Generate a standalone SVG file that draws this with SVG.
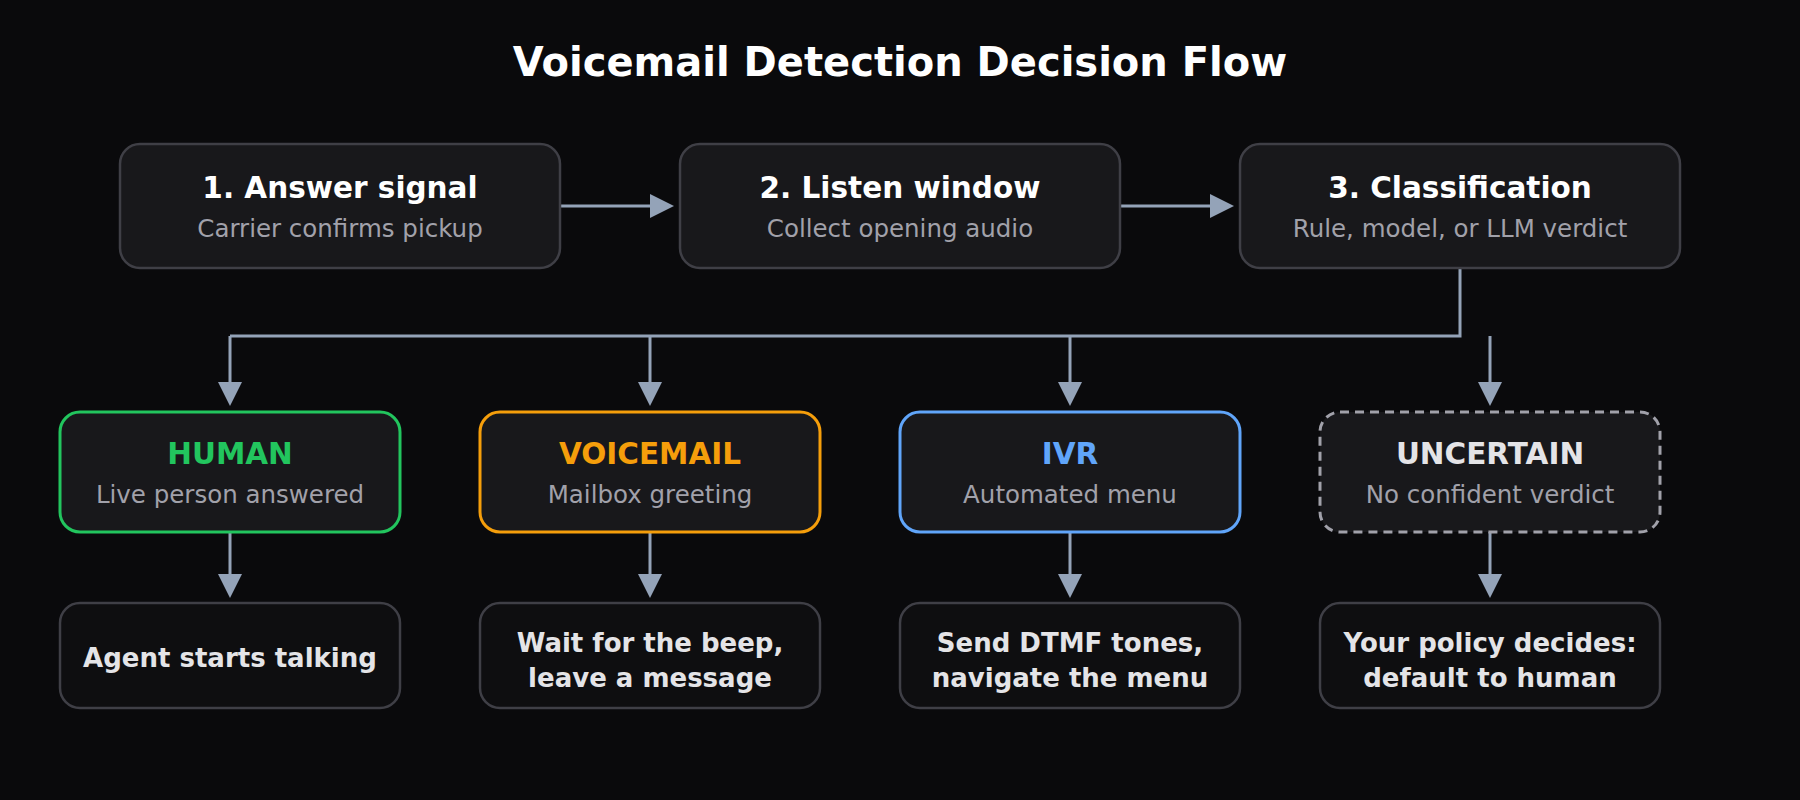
<svg xmlns="http://www.w3.org/2000/svg" width="1800" height="800" viewBox="0 0 1800 800">
<defs>
<marker id="ah" markerUnits="userSpaceOnUse" markerWidth="24" markerHeight="24" refX="14" refY="12" orient="auto">
<path d="M0,0 L24,12 L0,24 z" fill="#94a3b8"/>
</marker>
<style>
text{font-family:"DejaVu Sans","Noto Sans",sans-serif;text-anchor:middle}
.ttl{font-size:40px;font-weight:bold;fill:#ffffff}
.h{font-size:29.5px;font-weight:bold;fill:#ffffff}
.s{font-size:24.5px;fill:#a1a1aa}
.a{font-size:26px;font-weight:bold;fill:#e4e4e7}
.step{fill:#18181b;stroke:#3f3f46;stroke-width:2.5}
.act{fill:#0e0e10;stroke:#3f3f46;stroke-width:2.5}
.res{fill:#18181b;stroke-width:3}
.c{fill:none;stroke:#94a3b8;stroke-width:3}
</style>
</defs>
<rect width="1800" height="800" fill="#0a0a0c"/>
<text class="ttl" x="900" y="76">Voicemail Detection Decision Flow</text>

<g id="connectors">
<path class="c" d="M560,206 H664" marker-end="url(#ah)"/>
<path class="c" d="M1120,206 H1224" marker-end="url(#ah)"/>
<path class="c" d="M1460,268 V336 H230"/>
<path class="c" d="M230,336 V396" marker-end="url(#ah)"/>
<path class="c" d="M650,336 V396" marker-end="url(#ah)"/>
<path class="c" d="M1070,336 V396" marker-end="url(#ah)"/>
<path class="c" d="M1490,336 V396" marker-end="url(#ah)"/>
<path class="c" d="M230,532 V588" marker-end="url(#ah)"/>
<path class="c" d="M650,532 V588" marker-end="url(#ah)"/>
<path class="c" d="M1070,532 V588" marker-end="url(#ah)"/>
<path class="c" d="M1490,532 V588" marker-end="url(#ah)"/>
</g>

<g id="step1">
<rect class="step" x="120" y="144" width="440" height="124" rx="20"/>
<text class="h" x="340" y="198">1. Answer signal</text>
<text class="s" x="340" y="237">Carrier confirms pickup</text>
</g>
<g id="step2">
<rect class="step" x="680" y="144" width="440" height="124" rx="20"/>
<text class="h" x="900" y="198">2. Listen window</text>
<text class="s" x="900" y="237">Collect opening audio</text>
</g>
<g id="step3">
<rect class="step" x="1240" y="144" width="440" height="124" rx="20"/>
<text class="h" x="1460" y="198">3. Classification</text>
<text class="s" x="1460" y="237">Rule, model, or LLM verdict</text>
</g>

<g id="human">
<rect class="res" x="60" y="412" width="340" height="120" rx="20" stroke="#22c55e"/>
<text class="h" x="230" y="464" style="fill:#22c55e">HUMAN</text>
<text class="s" x="230" y="503">Live person answered</text>
</g>
<g id="voicemail">
<rect class="res" x="480" y="412" width="340" height="120" rx="20" stroke="#f59e0b"/>
<text class="h" x="650" y="464" style="fill:#f59e0b">VOICEMAIL</text>
<text class="s" x="650" y="503">Mailbox greeting</text>
</g>
<g id="ivr">
<rect class="res" x="900" y="412" width="340" height="120" rx="20" stroke="#60a5fa"/>
<text class="h" x="1070" y="464" style="fill:#60a5fa">IVR</text>
<text class="s" x="1070" y="503">Automated menu</text>
</g>
<g id="uncertain">
<rect class="res" x="1320" y="412" width="340" height="120" rx="20" stroke="#a1a1aa" stroke-width="2.5" stroke-dasharray="9 6"/>
<text class="h" x="1490" y="464" style="fill:#e4e4e7">UNCERTAIN</text>
<text class="s" x="1490" y="503">No confident verdict</text>
</g>

<g id="act-human">
<rect class="act" x="60" y="603" width="340" height="105" rx="20"/>
<text class="a" x="230" y="667">Agent starts talking</text>
</g>
<g id="act-voicemail">
<rect class="act" x="480" y="603" width="340" height="105" rx="20"/>
<text class="a" x="650" y="652">Wait for the beep,</text>
<text class="a" x="650" y="687">leave a message</text>
</g>
<g id="act-ivr">
<rect class="act" x="900" y="603" width="340" height="105" rx="20"/>
<text class="a" x="1070" y="652">Send DTMF tones,</text>
<text class="a" x="1070" y="687">navigate the menu</text>
</g>
<g id="act-uncertain">
<rect class="act" x="1320" y="603" width="340" height="105" rx="20"/>
<text class="a" x="1490" y="652">Your policy decides:</text>
<text class="a" x="1490" y="687">default to human</text>
</g>
</svg>
